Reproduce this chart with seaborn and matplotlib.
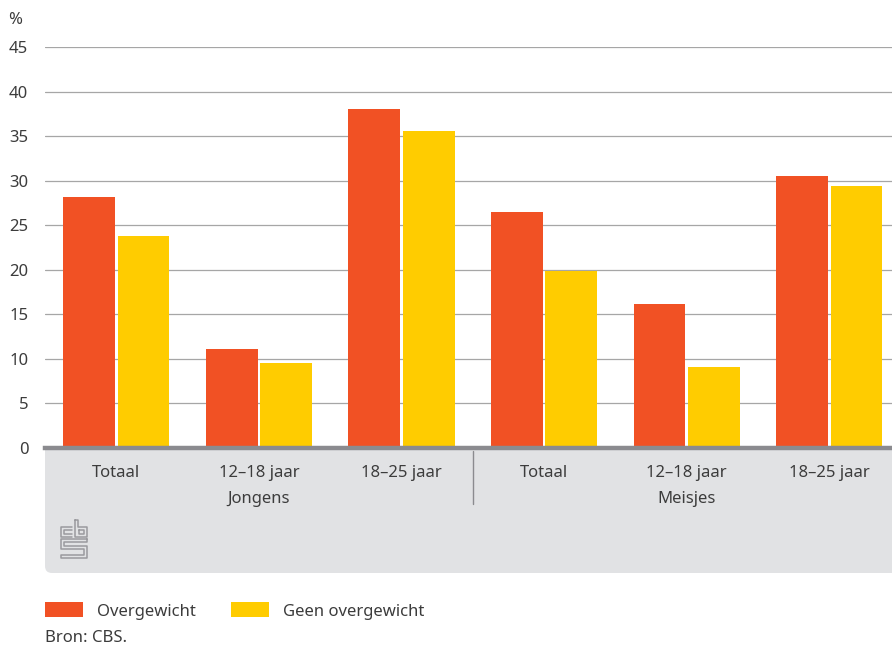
import matplotlib
matplotlib.use("Agg")
import matplotlib.pyplot as plt
from matplotlib.lines import Line2D
from matplotlib.patches import FancyBboxPatch
import pandas as pd
import seaborn as sns

# ── Data ─────────────────────────────────────────────────────────────────────
groups = ["Jongens", "Jongens", "Jongens", "Meisjes", "Meisjes", "Meisjes"]
ages = ["Totaal", "12–18 jaar", "18–25 jaar", "Totaal", "12–18 jaar", "18–25 jaar"]
overgewicht = [28.2, 11.1, 38.0, 26.5, 16.2, 30.5]
geen_overgewicht = [23.8, 9.5, 35.6, 19.9, 9.1, 29.4]
series = ["Overgewicht", "Geen overgewicht"]
colors = ["#f15124", "#ffcc00"]
yticks = [0, 5, 10, 15, 20, 25, 30, 35, 40, 45]

cats = [f"{g} {a}" for g, a in zip(groups, ages)]
df = pd.DataFrame({
    "cat": cats * 2,
    "serie": [series[0]] * len(cats) + [series[1]] * len(cats),
    "value": overgewicht + geen_overgewicht,
})

# ── Style ────────────────────────────────────────────────────────────────────
sns.set_style("white")
TXT = "#3c3c3c"
GRAY = "#8b8b8f"
plt.rcParams["font.family"] = ["Noto Sans", "DejaVu Sans"]
plt.rcParams["text.color"] = TXT

W, H = 892, 647
fig = plt.figure(figsize=(W / 100, H / 100), dpi=100)


def fx(x):
    return x / W


def fy(y):
    return 1 - y / H


# grey panel below the axis
panel = FancyBboxPatch((0.45, 0.74), 9.0, 1.33,
                       boxstyle="round,pad=0,rounding_size=0.07",
                       transform=fig.dpi_scale_trans,
                       facecolor="#e1e2e4", edgecolor="none", zorder=-1)
fig.patches.append(panel)

ax = fig.add_axes([fx(45), fy(448), 855.6 / W, 401 / H])
ax.set_facecolor("white")

sns.barplot(data=df, x="cat", y="value", hue="serie", order=cats,
            hue_order=series, palette=colors, width=0.762, gap=0.045,
            saturation=1, linewidth=0, ax=ax)

handles, labels = ax.get_legend_handles_labels()
ax.get_legend().remove()

ax.set_xlim(-0.5, 5.5)
ax.set_ylim(0, 45)
ax.set_yticks(yticks)
ax.set_yticklabels([str(t) for t in yticks])
ax.set_xticks(range(len(cats)))
ax.set_xticklabels(ages)
ax.set_xlabel("")
ax.set_ylabel("")
ax.tick_params(axis="y", length=0, pad=12, labelsize=12, labelcolor=TXT)
ax.tick_params(axis="x", length=0, pad=12, labelsize=12, labelcolor=TXT)
ax.set_axisbelow(True)
ax.yaxis.grid(True, color="#a6a6a6", linewidth=0.9)
for s in ["top", "left", "right"]:
    ax.spines[s].set_visible(False)
ax.spines["bottom"].set_color(GRAY)
ax.spines["bottom"].set_linewidth(3.2)
ax.spines["bottom"].set_zorder(3)

# group labels and divider
xt = ax.get_xaxis_transform()
ax.text(1, -0.1272, "Jongens", transform=xt, ha="center", va="center",
        fontsize=12, color=TXT)
ax.text(4, -0.1272, "Meisjes", transform=xt, ha="center", va="center",
        fontsize=12, color=TXT)
ax.plot([2.5, 2.5], [-0.008, -0.14], transform=xt, clip_on=False,
        color=GRAY, linewidth=1)

# unit label
fig.text(fx(8), fy(20), "%", fontsize=12, color=TXT, va="center")

# cbs logo (simplified)
logo_paths = [
    [(72, 527), (61, 527), (61, 537), (72, 537)],
    [(72, 530), (64, 530), (64, 534), (72, 534)],
    [(75, 520), (75, 537), (87, 537), (87, 527), (78, 527), (78, 520), (75, 520)],
    [(79, 530), (84, 530), (84, 534), (79, 534), (79, 530)],
    [(87, 539), (61, 539), (61, 549), (84, 549), (84, 555), (61, 555),
     (61, 558), (87, 558), (87, 546), (64, 546), (64, 542), (87, 542), (87, 539)],
]
for path in logo_paths:
    xs = [fx(p[0]) for p in path]
    ys = [fy(p[1]) for p in path]
    fig.add_artist(Line2D(xs, ys, transform=fig.transFigure,
                          color="#9a9a9e", linewidth=1.1))

# legend + source
fig.legend(handles, labels, loc="center left",
           bbox_to_anchor=(fx(45), fy(611)), ncol=2, frameon=False,
           borderpad=0, borderaxespad=0, handlelength=2.3, handleheight=1.0,
           handletextpad=0.85, columnspacing=2.05, fontsize=12,
           labelcolor=TXT)
fig.text(fx(45), fy(638), "Bron: CBS.", fontsize=12, color=TXT, va="center")

fig.savefig("out.png", dpi=100)
